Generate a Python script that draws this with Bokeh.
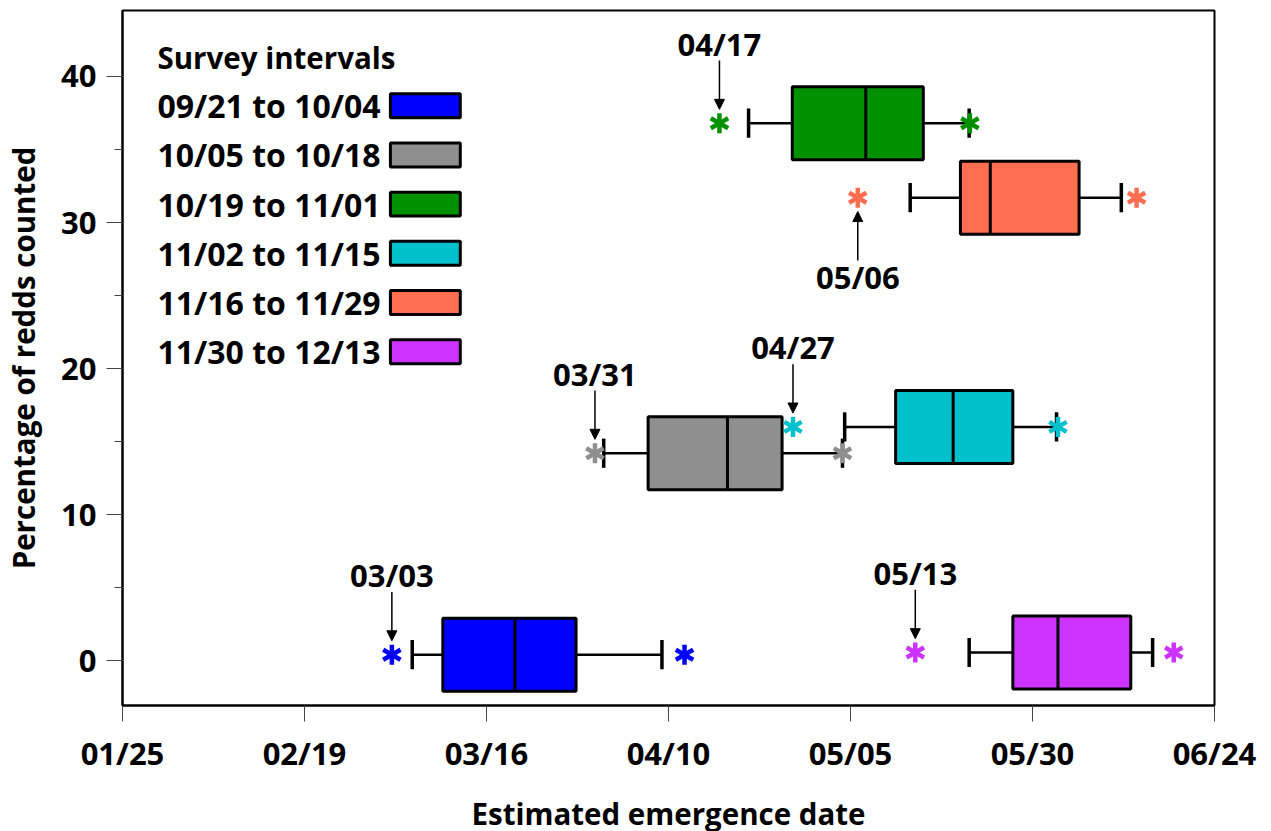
import math
from bokeh.plotting import figure
from bokeh.models import FixedTicker, Arrow, NormalHead, ColumnDataSource
from bokeh.core.properties import value
from bokeh.embed import file_html
from bokeh.resources import INLINE

# ---------------- data (x in days since 01/25) ----------------
intervals = ["09/21 to 10/04", "10/05 to 10/18", "10/19 to 11/01",
             "11/02 to 11/15", "11/16 to 11/29", "11/30 to 12/13"]
colors = ["#0000FF", "#8F8F8F", "#009100", "#00C0CC", "#FF6E50", "#CC33FF"]
pct_redds = [0.4, 14.2, 36.8, 16.0, 31.7, 0.55]
low_outlier = [37.0, 64.9, 82.0, 92.1, 101.0, 108.9]
whisker_low = [39.8, 66.1, 86.0, 99.2, 108.2, 116.3]
q1 = [44.0, 72.2, 92.0, 106.2, 115.1, 122.3]
median = [53.9, 83.1, 102.1, 114.1, 119.2, 128.5]
q3 = [62.3, 90.6, 110.0, 122.3, 131.4, 138.5]
whisker_high = [74.1, 98.9, 116.3, 128.3, 137.2, 141.5]
high_outlier = [77.2, 98.9, 116.4, 128.5, 139.3, 144.4]
annot_labels = ["03/03", "03/31", "04/17", "04/27", "05/06", "05/13"]
annot_below = [False, False, False, False, True, False]

tick_days = [0, 25, 50, 75, 100, 125, 150]
tick_labels = ["01/25", "02/19", "03/16", "04/10", "05/05", "05/30", "06/24"]

FONT = "Open Sans"

p = figure(frame_width=1092, frame_height=695, x_range=(0, 150), y_range=(-3.08, 44.52),
           output_backend="svg", toolbar_location=None,
           min_border_left=118, min_border_right=45, min_border_top=10, min_border_bottom=110)
p.xgrid.visible = False
p.ygrid.visible = False
p.outline_line_color = "black"
p.outline_line_width = 2
p.background_fill_color = "white"

# axes
p.xaxis.ticker = FixedTicker(ticks=tick_days)
p.xaxis.major_label_overrides = {d: l for d, l in zip(tick_days, tick_labels)}
p.yaxis.ticker = FixedTicker(ticks=[0, 10, 20, 30, 40], minor_ticks=[5, 15, 25, 35])
for ax in (p.xaxis[0], p.yaxis[0]):
    ax.axis_line_color = "black"
    ax.axis_line_width = 2
    ax.major_tick_in = 0
    ax.major_tick_out = 16
    ax.major_tick_line_color = "#444444"
    ax.major_tick_line_width = 1
    ax.major_label_text_font = FONT
    ax.major_label_text_font_style = "bold"
    ax.major_label_text_font_size = "31px"
    ax.major_label_text_color = "black"
    ax.axis_label_text_font = FONT
    ax.axis_label_text_font_style = "bold"
    ax.axis_label_text_font_size = "29.5px"
    ax.axis_label_text_color = "black"
p.xaxis.minor_tick_out = 0
p.xaxis.minor_tick_in = 0
p.yaxis.minor_tick_in = 0
p.yaxis.minor_tick_out = 8
p.yaxis.minor_tick_line_color = "#444444"
p.xaxis.major_label_standoff = 10
p.yaxis.major_label_standoff = 10
p.xaxis.axis_label = "Estimated emergence date"
p.yaxis.axis_label = "Percentage of redds counted"
p.xaxis.axis_label_standoff = 16
p.yaxis.axis_label_standoff = 14

BOX_H = 5.0
CAP_H = 1.0

src = ColumnDataSource(dict(
    y=pct_redds, lo=low_outlier, wl=whisker_low, q1=q1, med=median, q3=q3,
    wh=whisker_high, hi=high_outlier, color=colors,
    ytop=[v + BOX_H / 2 for v in pct_redds], ybot=[v - BOX_H / 2 for v in pct_redds],
    ctop=[v + CAP_H for v in pct_redds], cbot=[v - CAP_H for v in pct_redds],
))

# whiskers
p.segment(x0="wl", y0="y", x1="q1", y1="y", source=src, line_color="black", line_width=2.5)
p.segment(x0="q3", y0="y", x1="wh", y1="y", source=src, line_color="black", line_width=2.5)
# caps
p.segment(x0="wl", y0="cbot", x1="wl", y1="ctop", source=src, line_color="black", line_width=3.5)
p.segment(x0="wh", y0="cbot", x1="wh", y1="ctop", source=src, line_color="black", line_width=3.5)
# boxes
p.hbar(y="y", left="q1", right="q3", height=BOX_H, source=src, fill_color="color",
       line_color="black", line_width=3)
p.segment(x0="med", y0="ybot", x1="med", y1="ytop", source=src, line_color="black", line_width=3)

# outliers as six-armed asterisks
for xs in ("lo", "hi"):
    for ang in (math.pi / 2, math.pi / 6, -math.pi / 6):
        p.scatter(x=xs, y="y", source=src, marker="dash", size=20, angle=ang,
                  line_color="color", line_width=4.5)

# annotations (arrows + date labels)
head = dict(size=10, fill_color="black", line_color="black")
for lbl, below, xo, yv in zip(annot_labels, annot_below, low_outlier, pct_redds):
    s = -1 if below else 1
    p.add_layout(Arrow(end=NormalHead(**head), x_start=xo, y_start=yv + s * 4.3,
                       x_end=xo, y_end=yv + s * 0.95, line_color="black", line_width=1.5))
    p.text(x=[xo], y=[yv + s * 5.45], text=[lbl], text_font=value(FONT), text_font_style="bold",
           text_font_size="31px", text_align="center", text_baseline="middle", text_color="black")

# custom legend (labels left, swatches right)
LEG_X = 4.8
LEG_TITLE_Y = 41.3
LEG_ROW0 = 38.0
LEG_STEP = 3.37
sw_left, sw_right, sw_h = 36.8, 46.4, 1.64
rows_y = [LEG_ROW0 - i * LEG_STEP for i in range(len(intervals))]
p.text(x=[LEG_X], y=[LEG_TITLE_Y], text=["Survey intervals"], text_font=value(FONT),
       text_font_style="bold", text_font_size="29.5px", text_align="left",
       text_baseline="middle", text_color="black")
p.text(x=[LEG_X] * len(intervals), y=rows_y, text=intervals, text_font=value(FONT),
       text_font_style="bold", text_font_size="32px", text_align="left",
       text_baseline="middle", text_color="black")
p.quad(left=[sw_left] * len(intervals), right=[sw_right] * len(intervals),
       bottom=[v - sw_h / 2 for v in rows_y], top=[v + sw_h / 2 for v in rows_y],
       fill_color=colors, line_color="black", line_width=3)

open("out.html", "w").write(file_html(p, INLINE))
